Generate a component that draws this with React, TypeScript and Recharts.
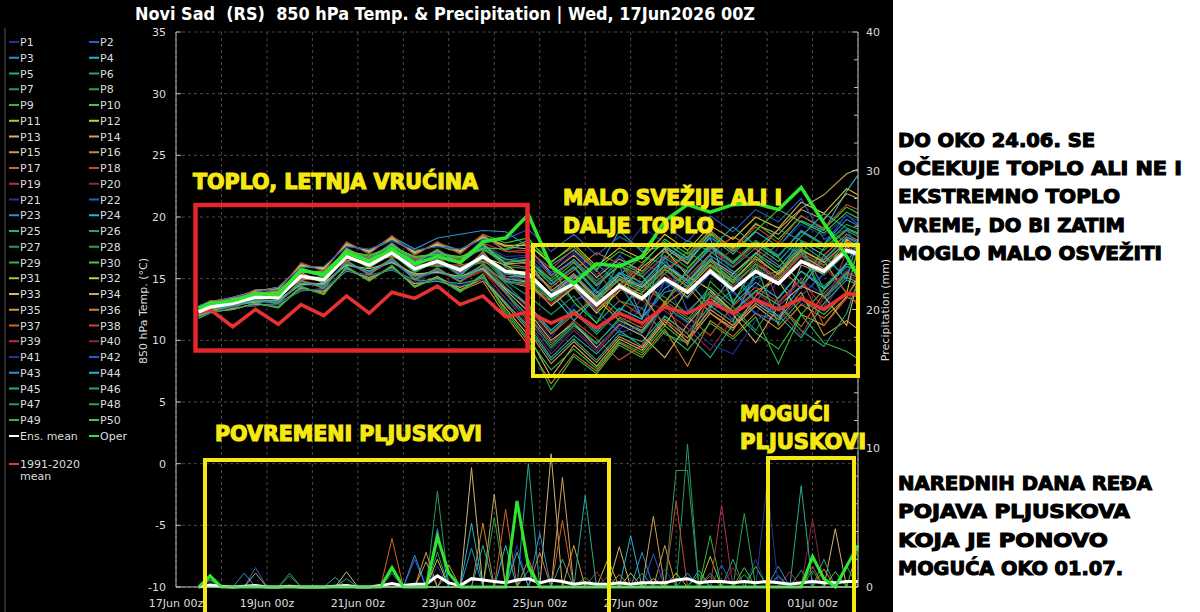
import React from "react";
import { LineChart, Line, XAxis, YAxis, CartesianGrid } from "recharts";

// hours after 17Jun 00z
const tempHours = [12, 18, 30, 42, 54, 66, 78, 90, 102, 114, 126, 138, 150, 162, 174, 186, 198, 210, 222, 234, 246, 258, 270, 282, 294, 306, 318, 330, 342, 354, 360];
const rainHours = [12, 18, 24, 30, 36, 42, 48, 54, 60, 66, 72, 78, 84, 90, 96, 102, 108, 114, 120, 126, 132, 138, 144, 150, 156, 162, 168, 174, 180, 186, 192, 198, 204, 210, 216, 222, 228, 234, 240, 246, 252, 258, 264, 270, 276, 282, 288, 294, 300, 306, 312, 318, 324, 330, 336, 342, 348, 354, 360];
const gridHours = [0, 24, 48, 72, 96, 120, 144, 168, 192, 216, 240, 264, 288, 312, 336, 360];
const tickHours = [0, 48, 96, 144, 192, 240, 288, 336];
const tickLabels = ["17Jun 00z", "19Jun 00z", "21Jun 00z", "23Jun 00z", "25Jun 00z", "27Jun 00z", "29Jun 00z", "01Jul 00z"];
const tempTicks = [-10, -5, 0, 5, 10, 15, 20, 25, 30, 35];
const rainTicks = [0, 2, 4, 6, 8, 10, 12, 14, 16, 18, 20, 22, 24, 26, 28, 30, 32, 34, 36, 38, 40];

const meanTemp = [12.3, 12.7, 13.0, 13.5, 13.5, 15.2, 14.9, 16.8, 16.1, 17.1, 15.8, 16.4, 15.7, 16.8, 15.6, 15.4, 13.6, 14.6, 12.9, 14.4, 13.4, 15.0, 13.9, 15.6, 14.1, 15.6, 14.6, 16.4, 15.6, 17.3, 17.0];
const operTemp = [12.6, 13.0, 13.2, 13.8, 13.7, 15.7, 15.3, 17.1, 16.4, 17.4, 16.2, 16.8, 16.3, 18.0, 18.3, 20.2, 16.0, 14.6, 16.2, 16.0, 16.8, 19.7, 21.0, 20.4, 21.0, 21.1, 20.6, 22.4, 19.5, 16.8, 15.2];
const climTemp = [12.2, 12.5, 11.1, 12.5, 11.3, 12.9, 12.0, 13.6, 12.2, 13.9, 13.4, 14.4, 12.9, 13.6, 11.9, 12.3, 11.4, 12.2, 11.0, 12.2, 11.4, 12.7, 12.2, 13.1, 12.2, 13.3, 12.5, 13.4, 12.5, 13.8, 13.7];

const memberTemps = [
  [12.1, 12.4, 12.9, 13.1, 13.2, 14.6, 14.5, 16.1, 15.6, 16.4, 15.2, 15.5, 15.0, 15.8, 14.0, 12.5, 10.2, 12.9, 11.8, 10.9, 12.6, 14.8, 11.4, 12.2, 13.9, 12.1, 14.9, 13.0, 12.4, 15.6, 14.1],
  [12.5, 12.8, 13.3, 13.7, 14.0, 15.6, 15.5, 17.2, 16.6, 17.9, 16.4, 17.0, 16.7, 17.5, 16.5, 16.8, 14.9, 13.2, 14.1, 16.9, 15.2, 16.8, 12.4, 14.0, 11.6, 15.2, 14.8, 18.9, 17.8, 20.2, 19.4],
  [12.3, 12.6, 13.1, 13.4, 13.6, 15.1, 15.0, 16.6, 16.2, 17.0, 15.9, 16.2, 15.6, 16.9, 15.4, 15.1, 13.6, 15.0, 16.2, 14.6, 11.8, 13.9, 14.4, 16.5, 15.2, 13.1, 15.5, 17.6, 14.2, 16.3, 17.7],
  [12.7, 13.2, 13.3, 14.1, 14.1, 16.2, 15.7, 17.9, 17.1, 18.4, 17.0, 17.9, 17.3, 18.5, 17.3, 17.9, 16.1, 17.3, 15.6, 18.9, 17.2, 17.7, 16.3, 18.4, 17.0, 18.8, 17.6, 19.7, 18.9, 22.1, 23.4],
  [11.9, 12.2, 12.7, 12.8, 12.9, 14.1, 14.0, 15.7, 15.1, 15.8, 14.6, 14.8, 14.3, 15.1, 13.0, 11.2, 8.6, 10.4, 8.9, 10.8, 9.5, 11.9, 10.6, 12.8, 11.5, 15.6, 14.9, 17.2, 13.4, 15.1, 14.7],
  [12.4, 12.9, 13.1, 13.9, 13.8, 15.6, 15.5, 17.2, 16.8, 17.6, 16.6, 17.0, 16.3, 17.5, 16.0, 15.8, 14.2, 12.1, 13.4, 15.3, 16.8, 16.2, 14.6, 16.9, 13.2, 15.1, 15.6, 17.8, 16.5, 18.3, 17.9],
  [12.2, 12.7, 12.9, 13.6, 13.4, 15.3, 14.8, 16.9, 16.0, 17.2, 15.6, 16.5, 15.4, 16.6, 14.8, 13.6, 12.1, 13.6, 11.4, 13.2, 12.6, 10.5, 9.8, 12.6, 14.1, 15.9, 14.6, 16.5, 15.3, 17.1, 16.8],
  [12.6, 12.9, 13.3, 13.8, 13.9, 15.8, 15.3, 17.4, 16.6, 17.8, 16.6, 17.1, 16.6, 17.7, 16.6, 16.4, 15.0, 16.6, 14.8, 16.3, 15.4, 17.2, 15.9, 17.8, 16.4, 18.1, 16.9, 18.8, 17.7, 19.4, 19.0],
  [12.0, 12.5, 12.7, 13.3, 13.0, 14.8, 14.3, 16.4, 15.4, 16.6, 15.0, 15.8, 14.8, 15.9, 13.8, 11.6, 9.4, 11.2, 9.7, 11.8, 10.6, 13.0, 11.7, 13.9, 12.4, 10.6, 9.3, 12.1, 14.1, 16.0, 15.6],
  [12.8, 13.0, 13.5, 13.9, 14.3, 16.0, 15.9, 17.7, 17.3, 18.1, 17.2, 17.7, 17.1, 18.6, 17.9, 18.3, 16.0, 13.1, 11.4, 14.5, 16.1, 18.2, 17.0, 18.9, 17.4, 19.5, 18.2, 20.1, 19.0, 20.8, 20.3],
  [12.2, 12.4, 12.8, 13.3, 13.2, 14.6, 14.6, 16.2, 15.6, 16.4, 15.3, 15.6, 15.1, 16.1, 14.8, 14.3, 13.2, 14.6, 12.4, 14.2, 13.2, 15.0, 13.5, 15.8, 14.4, 16.2, 14.8, 12.1, 11.2, 13.6, 14.9],
  [12.3, 12.8, 12.9, 13.5, 13.6, 15.0, 15.0, 16.7, 16.1, 17.0, 16.0, 16.3, 15.9, 16.7, 16.1, 15.0, 12.8, 14.3, 12.2, 14.0, 15.9, 17.4, 15.2, 14.1, 12.3, 14.0, 14.9, 16.9, 15.8, 17.6, 17.1],
  [11.8, 12.3, 12.5, 13.0, 12.7, 14.3, 13.8, 15.9, 14.9, 16.0, 14.4, 15.1, 14.1, 15.0, 12.6, 10.4, 7.0, 9.6, 7.9, 10.1, 9.2, 11.5, 9.9, 12.2, 11.0, 12.8, 11.4, 16.1, 15.4, 18.2, 17.6],
  [12.6, 13.1, 13.5, 14.0, 14.3, 16.0, 15.9, 17.7, 17.3, 18.2, 17.2, 17.7, 17.3, 18.3, 17.6, 17.4, 15.5, 16.9, 15.1, 16.6, 15.6, 17.5, 16.2, 18.7, 17.5, 19.4, 18.6, 20.6, 19.8, 21.9, 21.5],
  [12.4, 12.7, 13.0, 13.4, 13.6, 15.2, 14.8, 16.8, 16.2, 17.2, 15.7, 16.4, 15.8, 16.9, 15.5, 15.0, 13.7, 15.2, 13.4, 11.6, 10.8, 12.9, 14.3, 16.4, 14.9, 16.6, 15.4, 17.4, 16.3, 18.0, 17.5],
  [11.9, 12.3, 12.6, 12.9, 12.9, 14.2, 13.9, 15.7, 15.0, 15.9, 14.6, 15.0, 14.0, 14.8, 12.0, 9.6, 6.5, 8.9, 7.5, 9.8, 8.8, 10.9, 7.9, 11.6, 10.3, 12.2, 10.9, 12.9, 11.8, 13.5, 13.1],
  [12.5, 12.9, 13.2, 13.8, 13.9, 15.7, 15.4, 17.3, 16.7, 17.6, 16.5, 17.2, 16.5, 17.7, 16.2, 15.9, 14.3, 15.7, 17.1, 16.2, 14.5, 13.1, 15.1, 17.0, 18.4, 17.4, 16.1, 14.2, 16.9, 18.6, 18.1],
  [12.1, 12.6, 12.8, 13.3, 13.1, 14.8, 14.5, 16.2, 15.6, 16.6, 15.2, 15.7, 14.8, 15.7, 13.8, 12.0, 9.8, 11.6, 10.1, 8.4, 9.6, 13.2, 11.9, 10.4, 12.8, 14.3, 13.1, 15.0, 11.2, 13.4, 15.3],
  [12.5, 12.8, 13.3, 13.7, 13.8, 15.6, 15.3, 17.2, 16.6, 17.8, 16.6, 17.2, 16.7, 17.9, 17.2, 17.1, 15.2, 16.4, 14.5, 16.0, 15.1, 16.9, 15.6, 17.5, 16.0, 17.8, 13.0, 14.9, 12.6, 17.2, 17.9],
  [12.1, 12.5, 12.7, 13.2, 13.2, 14.7, 14.3, 16.3, 15.4, 16.4, 15.0, 15.6, 14.8, 15.6, 13.4, 11.4, 8.9, 10.8, 9.1, 11.2, 13.4, 12.4, 11.0, 9.2, 11.8, 13.9, 12.5, 10.4, 13.5, 15.3, 14.9],
  [12.5, 12.9, 13.1, 13.8, 13.8, 15.6, 15.4, 17.3, 16.8, 17.7, 16.4, 17.1, 16.4, 17.8, 16.8, 16.9, 15.5, 17.1, 15.3, 16.8, 19.2, 17.9, 16.6, 18.5, 15.3, 14.2, 17.6, 19.4, 18.5, 20.1, 19.7],
  [12.0, 12.4, 12.8, 13.1, 13.1, 14.6, 14.4, 16.4, 15.5, 16.5, 14.9, 15.6, 15.1, 16.1, 14.7, 14.5, 12.9, 14.3, 12.4, 10.6, 11.2, 14.8, 13.4, 15.4, 14.0, 12.2, 11.5, 13.6, 15.4, 17.2, 16.8],
  [12.8, 13.1, 13.4, 14.0, 14.2, 16.1, 15.8, 17.8, 17.2, 18.4, 17.4, 18.3, 18.6, 18.9, 18.8, 17.6, 15.3, 16.5, 14.6, 16.1, 11.8, 14.2, 15.4, 17.6, 16.2, 18.0, 16.8, 18.9, 17.8, 19.8, 19.3],
  [12.3, 12.7, 13.0, 13.6, 13.4, 15.3, 14.9, 16.9, 16.0, 17.1, 15.9, 16.5, 15.5, 16.8, 15.2, 15.1, 13.8, 11.6, 13.5, 15.0, 14.3, 16.1, 14.9, 12.7, 15.4, 17.1, 15.9, 18.0, 16.9, 15.0, 18.2],
  [11.8, 12.2, 12.7, 12.8, 13.0, 14.0, 14.2, 15.6, 15.3, 15.7, 14.9, 14.8, 14.6, 15.0, 13.1, 11.0, 8.4, 10.1, 8.4, 10.5, 9.9, 12.0, 10.5, 8.6, 11.3, 13.3, 12.0, 10.2, 13.0, 14.9, 14.5],
  [12.6, 12.9, 13.4, 13.8, 14.0, 15.6, 15.6, 17.1, 16.9, 17.5, 16.8, 16.9, 16.8, 17.3, 16.6, 16.2, 14.6, 16.0, 14.0, 12.3, 14.6, 16.6, 18.1, 17.2, 15.9, 17.5, 19.0, 18.1, 17.3, 18.9, 18.4],
  [12.1, 12.6, 13.2, 13.4, 13.7, 15.0, 15.2, 16.5, 16.4, 16.8, 16.1, 16.0, 15.9, 16.3, 14.6, 12.8, 10.6, 12.3, 10.5, 12.4, 14.6, 13.5, 12.2, 14.3, 12.7, 10.8, 13.5, 15.6, 14.4, 16.0, 15.7],
  [12.4, 12.8, 13.1, 13.9, 13.8, 15.9, 15.2, 17.5, 16.5, 17.9, 16.3, 17.4, 16.2, 17.9, 15.9, 15.1, 13.2, 14.6, 12.7, 14.5, 13.5, 15.4, 17.2, 16.0, 14.6, 16.2, 15.1, 17.0, 19.2, 17.9, 17.4],
  [12.0, 12.4, 12.5, 13.0, 12.7, 14.4, 13.7, 16.0, 14.8, 16.1, 14.3, 15.2, 14.0, 15.4, 12.4, 10.1, 7.6, 9.3, 7.7, 9.9, 9.0, 11.2, 9.7, 14.8, 13.0, 16.2, 11.2, 13.3, 12.1, 13.9, 13.5],
  [12.5, 13.0, 13.2, 13.7, 14.0, 15.5, 15.6, 17.2, 16.9, 17.6, 16.8, 17.0, 16.8, 17.4, 16.3, 16.5, 14.8, 16.3, 14.4, 16.1, 15.2, 13.0, 15.8, 17.7, 16.3, 17.9, 16.7, 14.6, 17.5, 19.0, 18.6],
  [12.5, 12.9, 12.8, 13.7, 13.3, 15.5, 14.6, 17.1, 15.8, 17.4, 15.5, 16.8, 15.3, 17.2, 15.0, 14.7, 12.8, 14.3, 12.8, 14.6, 13.7, 11.2, 14.2, 16.1, 14.7, 16.8, 15.3, 17.3, 16.4, 13.8, 17.5],
  [12.7, 13.1, 13.4, 14.0, 14.2, 16.1, 15.8, 17.8, 17.2, 18.3, 17.1, 17.8, 17.2, 18.4, 17.7, 17.7, 16.3, 17.8, 16.0, 17.5, 16.6, 18.6, 17.3, 19.3, 18.2, 20.0, 19.1, 21.2, 20.3, 22.3, 21.8],
  [12.0, 12.5, 12.9, 13.1, 13.3, 14.5, 14.6, 16.1, 15.8, 16.3, 15.4, 15.5, 15.2, 15.8, 14.1, 12.3, 10.0, 11.4, 9.4, 11.3, 10.4, 8.6, 11.3, 13.4, 12.1, 9.8, 12.8, 14.4, 13.6, 11.2, 15.0],
  [12.6, 12.9, 13.3, 13.9, 13.9, 15.8, 15.3, 17.4, 16.5, 17.8, 16.3, 17.3, 16.2, 17.8, 16.2, 16.3, 14.0, 15.4, 13.5, 15.2, 14.3, 16.1, 14.8, 16.6, 15.4, 17.0, 19.0, 20.7, 21.8, 23.5, 23.9],
  [11.9, 12.3, 12.6, 12.9, 12.9, 14.2, 14.0, 15.8, 15.1, 15.9, 14.6, 15.1, 14.3, 15.1, 12.9, 10.8, 8.1, 9.9, 8.2, 10.3, 9.4, 11.7, 10.2, 12.5, 11.2, 13.0, 11.7, 13.9, 10.4, 11.6, 10.9],
  [12.2, 12.6, 13.1, 13.3, 13.7, 14.9, 15.1, 16.5, 16.4, 16.8, 16.2, 16.1, 16.1, 16.4, 15.6, 15.5, 13.7, 15.2, 13.2, 14.9, 13.9, 15.8, 14.4, 12.2, 10.8, 13.6, 15.5, 17.3, 16.3, 18.0, 17.6],
  [12.2, 12.5, 12.7, 13.3, 13.0, 14.9, 14.2, 16.5, 15.3, 16.7, 14.9, 15.9, 14.7, 16.2, 14.3, 12.7, 10.5, 12.1, 13.6, 11.9, 11.0, 13.1, 9.6, 13.7, 12.3, 14.0, 12.9, 11.1, 13.8, 15.5, 15.1],
  [12.6, 13.2, 13.3, 14.1, 14.0, 16.3, 15.6, 18.0, 17.0, 18.5, 16.9, 18.0, 17.0, 18.6, 17.2, 17.3, 15.8, 17.4, 15.7, 13.2, 12.0, 15.8, 16.8, 18.8, 17.3, 19.2, 17.9, 20.1, 19.1, 21.0, 20.6],
  [12.4, 12.8, 12.9, 13.6, 13.4, 15.4, 14.7, 17.0, 15.9, 17.3, 15.6, 16.7, 15.4, 17.1, 14.9, 14.4, 12.9, 14.5, 12.6, 14.3, 16.2, 15.4, 13.9, 15.9, 17.4, 16.4, 15.0, 16.9, 16.0, 13.9, 12.8],
  [12.2, 12.7, 13.1, 13.4, 13.6, 15.0, 15.0, 16.6, 16.3, 16.9, 16.0, 16.2, 16.0, 16.6, 15.2, 14.8, 13.0, 14.5, 12.6, 14.2, 13.3, 11.4, 10.6, 13.4, 14.4, 16.1, 14.8, 16.8, 15.7, 17.5, 17.0],
  [11.9, 12.2, 12.7, 12.8, 12.9, 14.1, 14.1, 15.7, 15.2, 15.8, 14.7, 14.9, 14.4, 15.0, 13.4, 11.8, 9.2, 11.0, 9.3, 11.4, 10.5, 12.7, 11.4, 9.7, 8.9, 11.6, 12.7, 14.9, 13.7, 15.7, 15.2],
  [12.8, 13.0, 13.5, 13.9, 14.3, 15.9, 16.0, 17.6, 17.4, 18.1, 17.3, 17.6, 17.4, 18.2, 18.2, 19.0, 17.2, 18.6, 16.9, 18.4, 17.4, 19.3, 18.0, 20.1, 18.8, 20.6, 19.6, 21.5, 18.2, 19.0, 17.5],
  [12.3, 12.6, 13.0, 13.6, 13.4, 15.3, 14.8, 16.9, 15.9, 17.2, 15.6, 16.6, 15.3, 17.0, 15.0, 14.8, 13.8, 15.3, 13.6, 15.4, 14.4, 16.4, 14.8, 16.9, 15.6, 13.2, 11.9, 14.4, 16.6, 18.4, 18.0],
  [12.1, 12.4, 12.8, 13.2, 13.2, 14.6, 14.5, 16.2, 15.6, 16.4, 15.2, 15.6, 15.0, 15.9, 14.2, 12.9, 10.8, 12.5, 10.7, 12.6, 11.7, 17.6, 16.5, 18.3, 12.9, 14.7, 13.4, 15.6, 14.2, 16.2, 15.9],
  [12.4, 12.9, 13.1, 13.8, 13.8, 15.7, 15.3, 17.2, 16.6, 17.7, 16.4, 17.2, 16.4, 17.7, 16.3, 16.6, 14.5, 15.9, 13.8, 15.5, 14.7, 16.7, 15.5, 17.4, 19.2, 17.7, 16.4, 18.4, 20.3, 19.1, 18.7],
  [12.1, 12.6, 12.8, 13.3, 13.0, 14.8, 14.3, 16.4, 15.4, 16.6, 15.0, 15.8, 14.8, 16.1, 13.9, 11.9, 9.6, 11.4, 9.8, 11.6, 10.7, 12.8, 11.5, 13.6, 12.3, 14.0, 12.9, 10.8, 9.5, 12.2, 14.8],
  [12.4, 12.8, 13.0, 13.4, 13.6, 15.1, 15.1, 16.7, 16.3, 16.9, 16.1, 16.2, 15.9, 16.6, 15.4, 15.2, 13.4, 14.9, 13.0, 16.3, 13.8, 15.7, 14.3, 16.2, 14.8, 16.4, 17.8, 17.1, 16.1, 17.8, 17.3],
  [12.2, 12.6, 13.0, 13.5, 13.4, 15.2, 14.7, 16.8, 15.9, 17.0, 15.5, 16.5, 15.2, 16.9, 14.8, 14.6, 13.3, 14.8, 13.3, 15.0, 14.1, 16.0, 14.6, 16.6, 15.1, 17.0, 15.6, 17.6, 13.5, 15.4, 16.9],
  [11.8, 12.3, 12.5, 13.0, 12.6, 14.3, 13.7, 15.9, 14.8, 16.0, 14.3, 15.1, 13.9, 15.3, 12.2, 9.9, 6.0, 8.7, 7.3, 9.6, 8.6, 10.7, 9.2, 11.4, 10.1, 11.9, 8.1, 12.1, 9.8, 9.1, 8.5],
  [12.5, 12.8, 13.3, 13.7, 14.0, 15.6, 15.5, 17.3, 16.8, 17.6, 16.7, 17.0, 16.7, 17.5, 17.4, 18.1, 16.4, 17.6, 15.8, 17.2, 16.3, 18.0, 16.7, 18.6, 17.2, 18.9, 20.6, 19.6, 18.7, 20.4, 19.9],
];

// rain events per member: [hour, mm]; all other 6-hour steps are 0
const memberRain: [number, number][][] = [
  [[18, 0.4], [180, 3.0], [306, 2.0]],
  [[42, 1.4], [126, 2.0], [228, 0.8]],
  [[36, 1.0], [114, 1.0], [138, 4.2], [246, 2.5]],
  [[156, 4.6], [276, 1.2]],
  [[18, 0.9], [84, 0.7], [144, 1.0], [186, 8.9]],
  [[246, 1.0], [354, 1.5]],
  [[60, 1.0], [138, 6.9], [270, 10.3]],
  [[216, 0.7], [300, 5.3]],
  [[18, 0.6], [114, 1.2], [282, 3.7]],
  [[300, 1.4], [360, 2.8]],
  [[228, 2.0], [282, 2.2]],
  [[138, 2.0], [264, 1.0]],
  [[90, 1.1], [198, 9.6], [234, 2.9], [348, 4.2]],
  [[42, 1.0], [132, 1.8], [144, 1.6], [204, 7.9]],
  [[132, 2.5], [186, 2.0], [258, 3.0]],
  [[162, 4.6], [234, 0.9]],
  [[114, 3.5], [204, 4.8]],
  [[264, 6.2], [336, 1.5]],
  [[222, 1.1], [288, 5.9]],
  [[336, 4.9]],
  [[138, 1.5], [258, 1.3]],
  [[252, 2.4], [288, 1.6]],
  [[126, 2.3], [318, 1.5]],
  [[174, 3.0], [240, 3.7], [318, 0.8]],
  [[90, 0.6], [204, 2.0], [330, 7.3]],
  [[138, 2.5], [294, 2.0], [330, 1.2]],
  [[60, 0.8], [282, 1.0]],
  [[168, 5.0], [276, 0.9]],
  [[18, 0.5], [186, 1.2]],
  [[306, 1.5]],
  [[240, 1.0]],
  [[252, 0.6]],
  [[156, 8.6]],
  [[168, 6.7], [252, 5.1]],
  [[210, 3.0]],
  [[192, 2.5], [342, 1.3]],
  [[174, 5.6]],
  [[282, 0.8]],
  [[324, 1.1]],
  [[294, 1.4]],
  [[312, 7.4]],
  [[318, 0.7]],
  [[156, 2.8], [192, 3.9]],
  [[180, 2.5], [270, 1.0]],
  [[162, 3.0], [216, 6.6]],
  [[342, 2.0]],
  [[264, 8.4], [270, 8.4]],
  [[336, 1.2]],
  [[300, 0.9]],
  [[348, 1.1]],
];
const operRain: [number, number][] = [[18, 0.8], [114, 1.4], [138, 3.6], [144, 1.0], [180, 6.2], [186, 1.5], [336, 2.2], [342, 0.6], [354, 1.5], [360, 3.0]];
const meanRain = [0, 0.15, 0.05, 0, 0.05, 0.1, 0, 0, 0.05, 0, 0, 0, 0.05, 0.1, 0, 0, 0.1, 0.25, 0.1, 0.2, 0.2, 0.8, 0.3, 0.1, 0.6, 0.5, 0.4, 0.3, 0.5, 0.6, 0.3, 0.5, 0.4, 0.2, 0.3, 0.2, 0.2, 0.3, 0.2, 0.3, 0.3, 0.3, 0.5, 0.6, 0.3, 0.4, 0.4, 0.3, 0.4, 0.3, 0.4, 0.3, 0.2, 0.3, 0.4, 0.3, 0.3, 0.4, 0.4];

const palette = ["#23349c", "#2c5cc5", "#2f8fd0", "#2ab4c8", "#29a99a", "#27a07a", "#2a9860", "#2aa54a", "#34b83a", "#3fcc2c", "#b5c425", "#d6c834", "#d2b46a", "#c9a35c", "#d39a3a", "#d4822a", "#d4632a", "#c84a32", "#b43246", "#8e2838"];
const operColor = "#2ee62e";
const climColor = "#e83232";
const yellow = "#f6e812";
const font = "DejaVu Sans, Verdana, sans-serif";

const rows = rainHours.map((h, i) => {
  const row: Record<string, number> = { h, pMean: meanRain[i] };
  memberRain.forEach((ev, k) => {
    const hit = ev.find((e) => e[0] === h);
    row[`p${k}`] = hit ? hit[1] : 0;
  });
  const o = operRain.find((e) => e[0] === h);
  row.pOper = o ? o[1] : 0;
  const j = tempHours.indexOf(h);
  if (j >= 0) {
    memberTemps.forEach((s, k) => {
      row[`t${k}`] = s[j];
    });
    row.tMean = meanTemp[j];
    row.tOper = operTemp[j];
    row.tClim = climTemp[j];
  }
  return row;
});

const DateTick = (props: any) => {
  const { x, y, payload } = props;
  const idx = tickHours.indexOf(payload.value);
  if (idx < 0) return <g />;
  return (
    <text x={x} y={y + 20} textAnchor="middle" fill="#ddd" fontSize={11} fontFamily={font}>
      {tickLabels[idx]}
    </text>
  );
};

const TempTick = (props: any) => {
  const { x, y, payload } = props;
  return (
    <g>
      <line x1={x} x2={x + 5} y1={y} y2={y} stroke="#bbb" />
      <text x={x - 10} y={y + 4} textAnchor="end" fill="#ddd" fontSize={11} fontFamily={font}>
        {payload.value}
      </text>
    </g>
  );
};

const RainTick = (props: any) => {
  const { x, y, payload } = props;
  const major = payload.value % 10 === 0;
  return (
    <g>
      <line x1={x - (major ? 6 : 4)} x2={x} y1={y} y2={y} stroke="#bbb" />
      {major && (
        <text x={x + 8} y={y + 4} fill="#ddd" fontSize={11} fontFamily={font}>
          {payload.value}
        </text>
      )}
    </g>
  );
};

const legendRows = [0, 1, 2, 3, 4, 5, 6, 7, 8, 9, 10, 11, 12, 13, 14, 15, 16, 17, 18, 19, 20, 21, 22, 23, 24];

const Overlay = () => (
  <svg width={1200} height={612} style={{ position: "absolute", left: 0, top: 0, pointerEvents: "none" }}>
    <line x1={5} y1={28} x2={5} y2={612} stroke="#555" />
    <text x={135} y={20} fill="#fff" fontSize={17} fontWeight="bold" fontFamily={font} textLength={620} lengthAdjust="spacingAndGlyphs" style={{ whiteSpace: "pre" }}>
      Novi Sad  (RS)  850 hPa Temp. &amp; Precipitation | Wed, 17Jun2026 00Z
    </text>
    {legendRows.map((r) => (
      <g key={r}>
        <line x1={9} x2={19} y1={42 + r * 15.75} y2={42 + r * 15.75} stroke={palette[(2 * r) % 20]} strokeWidth={2} />
        <text x={20} y={46 + r * 15.75} fill="#ddd" fontSize={11} fontFamily={font}>{`P${2 * r + 1}`}</text>
        <line x1={89} x2={99} y1={42 + r * 15.75} y2={42 + r * 15.75} stroke={palette[(2 * r + 1) % 20]} strokeWidth={2} />
        <text x={100} y={46 + r * 15.75} fill="#ddd" fontSize={11} fontFamily={font}>{`P${2 * r + 2}`}</text>
      </g>
    ))}
    <line x1={9} x2={19} y1={436} y2={436} stroke="#fff" strokeWidth={2} />
    <text x={20} y={440} fill="#ddd" fontSize={11} fontFamily={font}>Ens. mean</text>
    <line x1={89} x2={99} y1={436} y2={436} stroke={operColor} strokeWidth={2} />
    <text x={100} y={440} fill="#ddd" fontSize={11} fontFamily={font}>Oper</text>
    <line x1={9} x2={19} y1={464} y2={464} stroke={climColor} strokeWidth={2} />
    <text x={20} y={468} fill="#ddd" fontSize={11} fontFamily={font}>1991-2020</text>
    <text x={20} y={480} fill="#ddd" fontSize={11} fontFamily={font}>mean</text>
    <text transform="translate(147,311) rotate(-90)" textAnchor="middle" fill="#ddd" fontSize={11} fontFamily={font}>850 hPa Temp. (°C)</text>
    <text transform="translate(889,310) rotate(-90)" textAnchor="middle" fill="#ddd" fontSize={11} fontFamily={font}>Precipitation (mm)</text>

    <rect x={195.5} y={205} width={332} height={145.5} fill="none" stroke="#e5262b" strokeWidth={4.5} />
    <rect x={533} y={245} width={325} height={131} fill="none" stroke={yellow} strokeWidth={4} />
    <rect x={205} y={460} width={404} height={160} fill="none" stroke={yellow} strokeWidth={4} />
    <rect x={768} y={458} width={86} height={162} fill="none" stroke={yellow} strokeWidth={4} />

    <g fill={yellow} fontFamily={font} fontWeight="bold" fontSize={21} stroke={yellow} strokeWidth={1.2}>
      <text x={193} y={189} textLength={285} lengthAdjust="spacingAndGlyphs">TOPLO, LETNJA VRUĆINA</text>
      <text x={563} y={205} textLength={219} lengthAdjust="spacingAndGlyphs">MALO SVEŽIJE ALI I</text>
      <text x={563} y={233} textLength={151} lengthAdjust="spacingAndGlyphs">DALJE TOPLO</text>
      <text x={215} y={441} textLength={267} lengthAdjust="spacingAndGlyphs">POVREMENI PLJUSKOVI</text>
      <text x={740} y={421} textLength={90} lengthAdjust="spacingAndGlyphs">MOGUĆI</text>
      <text x={740} y={449} textLength={126} lengthAdjust="spacingAndGlyphs">PLJUSKOVI</text>
    </g>

    <rect x={893} y={0} width={307} height={612} fill="#fff" />
    <g fill="#000" fontFamily={font} fontWeight="bold" fontSize={19} stroke="#000" strokeWidth={1.1}>
      <text x={898} y={147} textLength={197} lengthAdjust="spacingAndGlyphs">DO OKO 24.06. SE</text>
      <text x={898} y={175} textLength={284} lengthAdjust="spacingAndGlyphs">OČEKUJE TOPLO ALI NE I</text>
      <text x={898} y={203} textLength={222} lengthAdjust="spacingAndGlyphs">EKSTREMNO TOPLO</text>
      <text x={898} y={232} textLength={227} lengthAdjust="spacingAndGlyphs">VREME, DO BI ZATIM</text>
      <text x={898} y={260} textLength={264} lengthAdjust="spacingAndGlyphs">MOGLO MALO OSVEŽITI</text>
      <text x={898} y={490} textLength={254} lengthAdjust="spacingAndGlyphs">NAREDNIH DANA REĐA</text>
      <text x={898} y={518} textLength={232} lengthAdjust="spacingAndGlyphs">POJAVA PLJUSKOVA</text>
      <text x={898} y={547} textLength={210} lengthAdjust="spacingAndGlyphs">KOJA JE PONOVO</text>
      <text x={898} y={575} textLength={225} lengthAdjust="spacingAndGlyphs">MOGUĆA OKO 01.07.</text>
    </g>
  </svg>
);

export default function App() {
  return (
    <div style={{ position: "absolute", left: 0, top: 0, width: 1200, height: 612, background: "#000", overflow: "hidden" }}>
      <LineChart width={893} height={612} data={rows} margin={{ top: 32, right: 1, bottom: 5, left: 126 }}>
        <CartesianGrid yAxisId="t" stroke="#4a4a4a" strokeDasharray="3 3" />
        <XAxis dataKey="h" type="number" domain={[0, 360]} ticks={gridHours} interval={0} tick={<DateTick />} tickLine={false} tickSize={0} tickMargin={0} height={20} axisLine={{ stroke: "#bbb" }} />
        <YAxis yAxisId="t" domain={[-10, 35]} ticks={tempTicks} interval={0} width={50} tick={<TempTick />} tickLine={false} tickSize={0} tickMargin={0} axisLine={{ stroke: "#bbb" }} />
        <YAxis yAxisId="p" orientation="right" domain={[0, 40]} ticks={rainTicks} interval={0} width={34} tick={<RainTick />} tickLine={false} tickSize={0} tickMargin={0} axisLine={{ stroke: "#bbb" }} />
        {memberRain.map((_, k) => (
          <Line key={`p${k}`} yAxisId="p" dataKey={`p${k}`} stroke={palette[k % 20]} strokeWidth={1} dot={false} activeDot={false} isAnimationActive={false} />
        ))}
        {memberTemps.map((_, k) => (
          <Line key={`t${k}`} yAxisId="t" dataKey={`t${k}`} stroke={palette[k % 20]} strokeWidth={1.1} dot={false} activeDot={false} connectNulls isAnimationActive={false} />
        ))}
        <Line yAxisId="p" dataKey="pMean" stroke="#fff" strokeWidth={3} dot={false} activeDot={false} isAnimationActive={false} />
        <Line yAxisId="p" dataKey="pOper" stroke={operColor} strokeWidth={3} dot={false} activeDot={false} isAnimationActive={false} />
        <Line yAxisId="t" dataKey="tClim" stroke={climColor} strokeWidth={3.5} dot={false} activeDot={false} connectNulls isAnimationActive={false} />
        <Line yAxisId="t" dataKey="tMean" stroke="#fff" strokeWidth={3.5} dot={false} activeDot={false} connectNulls isAnimationActive={false} />
        <Line yAxisId="t" dataKey="tOper" stroke={operColor} strokeWidth={3.5} dot={false} activeDot={false} connectNulls isAnimationActive={false} />
      </LineChart>
      <Overlay />
    </div>
  );
}
